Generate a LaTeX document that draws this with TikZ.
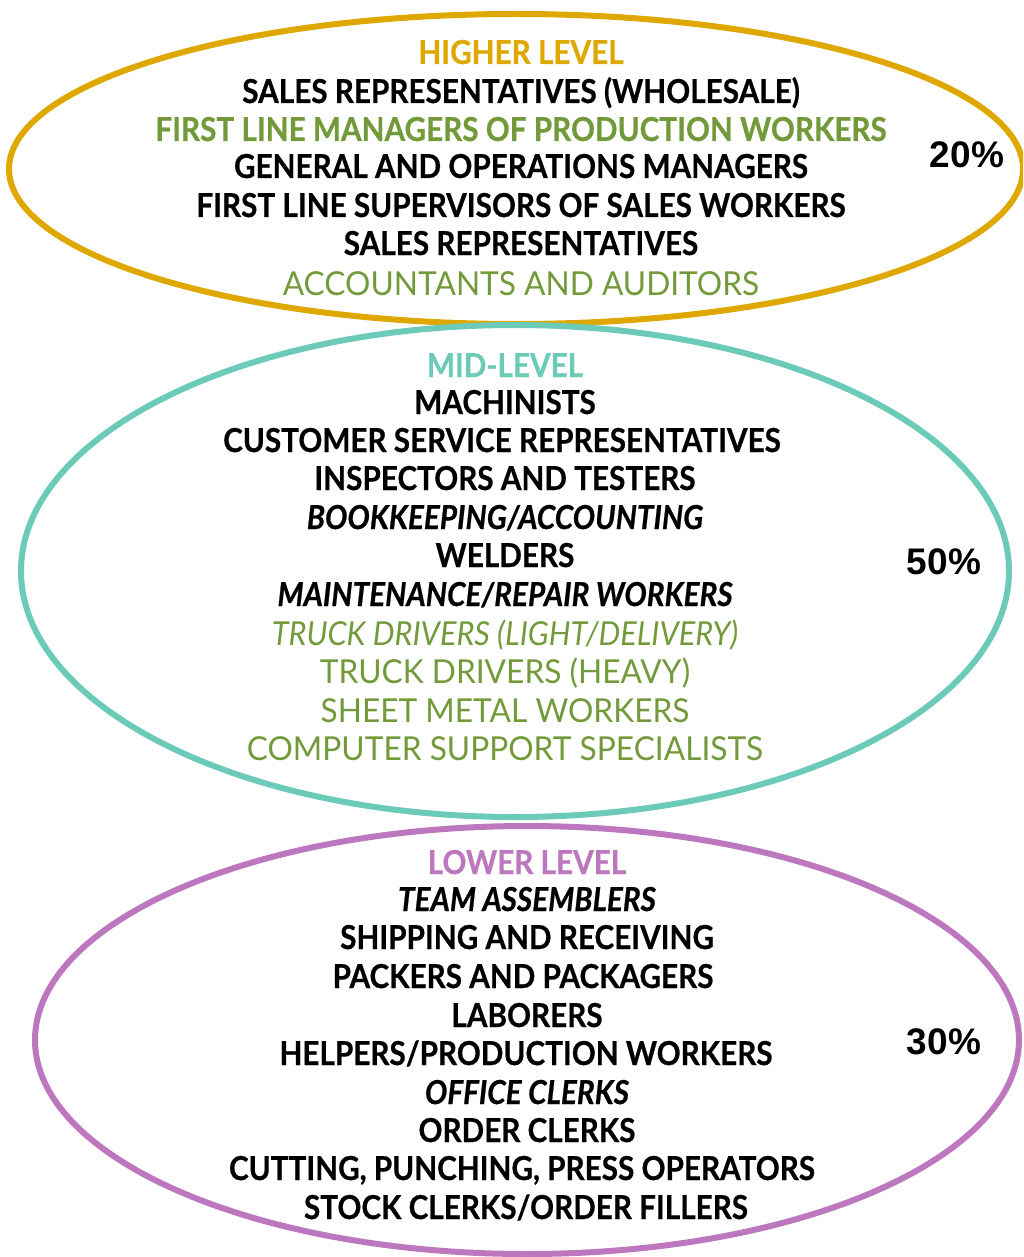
\documentclass[tikz,border=0pt]{standalone}
\usepackage{fontspec}
\setmainfont{Lato}
\newfontfamily\boldcond[FakeStretch=0.9,FakeBold=0.6]{Lato Bold}
\newfontfamily\boldcondit[FakeStretch=0.9,FakeBold=0.6]{Lato Bold Italic}
\newfontfamily\regcond[FakeStretch=0.96]{Lato}
\newfontfamily\regcondit[FakeStretch=0.93]{Lato Italic}
\newfontfamily\pctfont{Liberation Sans Bold}
\definecolor{gold}{HTML}{DFA800}
\definecolor{teal}{HTML}{6CCBB8}
\definecolor{purp}{HTML}{BC77BF}
\definecolor{olive}{HTML}{739A3A}
\tikzset{
  ring/.style={line width=6pt},
  bl/.style={anchor=base, inner sep=0pt, font=\fontsize{33}{33}\boldcond, text=black},
  bi/.style={anchor=base, inner sep=0pt, font=\fontsize{33}{33}\boldcondit, text=black},
  gb/.style={anchor=base, inner sep=0pt, font=\fontsize{33}{33}\boldcond, text=olive},
  gr/.style={anchor=base, inner sep=0pt, font=\fontsize{33}{33}\regcond, text=olive},
  gi/.style={anchor=base, inner sep=0pt, font=\fontsize{33}{33}\regcondit, text=olive},
  pct/.style={anchor=center, inner sep=0pt, font=\fontsize{37}{37}\pctfont, text=black}
}
\begin{document}
\begin{tikzpicture}[x=1pt,y=-1pt]
\useasboundingbox (0,0) rectangle (1023,1257);
\begin{scope}
\clip (0,0) rectangle (1023,1257);
\draw[ring, gold] (516,169) ellipse [x radius=507, y radius=155];
\draw[ring, teal] (515,571) ellipse [x radius=494, y radius=246];
\draw[ring, purp] (527,1040) ellipse [x radius=492, y radius=214];
\end{scope}
% higher level
\node[bl, text=gold] (h0) at (521,64) {HIGHER LEVEL};
\node[bl] (h1) at (521,103) {SALES REPRESENTATIVES (WHOLESALE)};
\node[gb] (h2) at (521,141) {FIRST LINE MANAGERS OF PRODUCTION WORKERS};
\node[bl] (h3) at (521,178) {GENERAL AND OPERATIONS MANAGERS};
\node[bl] (h4) at (521,217) {FIRST LINE SUPERVISORS OF SALES WORKERS};
\node[bl] (h5) at (521,255) {SALES REPRESENTATIVES};
\node[gr] (h6) at (521,295) {ACCOUNTANTS AND AUDITORS};
\node[pct] (p1) at (967,155) {20\%};
% mid level
\node[bl, text=teal] (m0) at (505,377) {MID-LEVEL};
\node[bl] (m1) at (505,414) {MACHINISTS};
\node[bl] (m2) at (502,452) {CUSTOMER SERVICE REPRESENTATIVES};
\node[bl] (m3) at (505,490) {INSPECTORS AND TESTERS};
\node[bi] (m4) at (505,529) {BOOKKEEPING/ACCOUNTING};
\node[bl] (m5) at (505,567) {WELDERS};
\node[bi] (m6) at (505,606) {MAINTENANCE/REPAIR WORKERS};
\node[gi] (m7) at (505,645) {TRUCK DRIVERS (LIGHT/DELIVERY)};
\node[gr] (m8) at (505,683) {TRUCK DRIVERS (HEAVY)};
\node[gr] (m9) at (505,722) {SHEET METAL WORKERS};
\node[gr] (m10) at (505,760) {COMPUTER SUPPORT SPECIALISTS};
\node[pct] (p2) at (944,562) {50\%};
% lower level
\node[bl, text=purp] (l0) at (527,874) {LOWER LEVEL};
\node[bi] (l1) at (527,911) {TEAM ASSEMBLERS};
\node[bl] (l2) at (527,949) {SHIPPING AND RECEIVING};
\node[bl] (l3) at (523,988) {PACKERS AND PACKAGERS};
\node[bl] (l4) at (527,1027) {LABORERS};
\node[bl] (l5) at (526,1065) {HELPERS/PRODUCTION WORKERS};
\node[bi] (l6) at (527,1104) {OFFICE CLERKS};
\node[bl] (l7) at (527,1142) {ORDER CLERKS};
\node[bl] (l8) at (522,1180) {CUTTING, PUNCHING, PRESS OPERATORS};
\node[bl] (l9) at (526,1219) {STOCK CLERKS/ORDER FILLERS};
\node[pct] (p3) at (944,1042) {30\%};
\end{tikzpicture}
\end{document}
